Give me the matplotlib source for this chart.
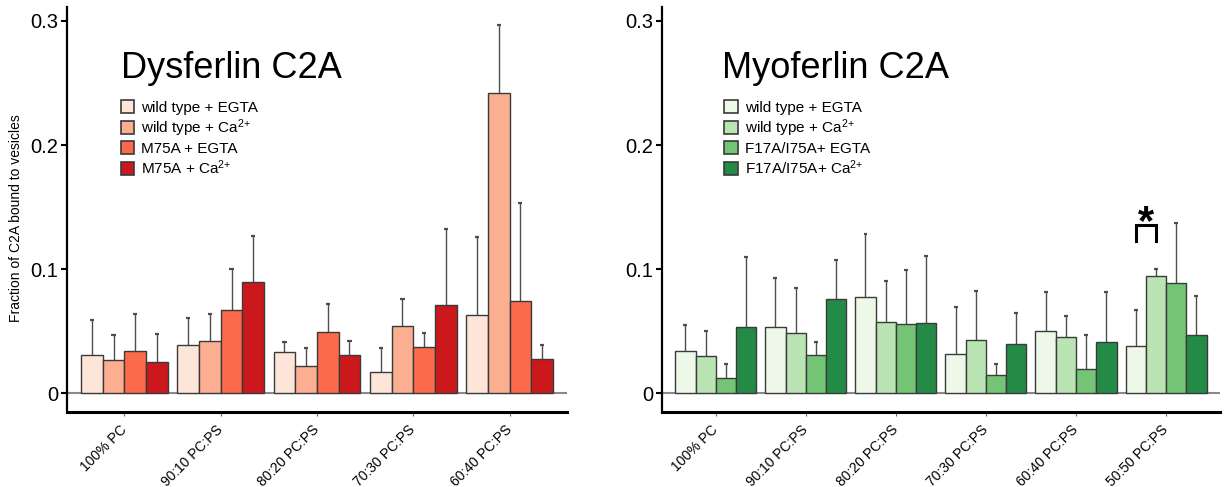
import numpy as np
import matplotlib
matplotlib.use('Agg')
import matplotlib.pyplot as plt
from matplotlib.patches import Patch

plt.rcParams['font.family'] = ['Liberation Sans', 'DejaVu Sans']
plt.rcParams['mathtext.default'] = 'regular'

# ---------------- data ----------------
dys_categories = ['100% PC', '90:10 PC:PS', '80:20 PC:PS', '70:30 PC:PS', '60:40 PC:PS']
myo_categories = ['100% PC', '90:10 PC:PS', '80:20 PC:PS', '70:30 PC:PS', '60:40 PC:PS', '50:50 PC:PS']

dys_labels = ['wild type + EGTA', 'wild type + Ca$^{2{+}}$', 'M75A + EGTA', 'M75A + Ca$^{2{+}}$']
myo_labels = ['wild type + EGTA', 'wild type + Ca$^{2{+}}$', 'F17A/I75A+ EGTA', 'F17A/I75A+ Ca$^{2{+}}$']

# Dysferlin C2A: mean fraction bound and upper error
dys_wt_egta = [0.031, 0.039, 0.033, 0.017, 0.063]
dys_wt_ca = [0.0266, 0.042, 0.022, 0.054, 0.242]
dys_m75a_egta = [0.0344, 0.067, 0.0497, 0.0374, 0.0742]
dys_m75a_ca = [0.025, 0.0895, 0.0312, 0.0715, 0.0277]

dys_wt_egta_err = [0.028, 0.0215, 0.0087, 0.0193, 0.0633]
dys_wt_ca_err = [0.0204, 0.022, 0.0146, 0.0218, 0.055]
dys_m75a_egta_err = [0.0293, 0.0335, 0.0226, 0.0115, 0.0793]
dys_m75a_ca_err = [0.0231, 0.0374, 0.011, 0.0605, 0.011]

# Myoferlin C2A
myo_wt_egta = [0.0343, 0.053, 0.0773, 0.0319, 0.05, 0.0381]
myo_wt_ca = [0.030, 0.0484, 0.0576, 0.043, 0.0451, 0.0943]
myo_mut_egta = [0.0127, 0.0311, 0.0557, 0.0149, 0.0197, 0.0889]
myo_mut_ca = [0.0535, 0.0757, 0.0568, 0.0397, 0.0416, 0.0473]

myo_wt_egta_err = [0.0208, 0.0397, 0.0513, 0.0378, 0.0316, 0.0289]
myo_wt_ca_err = [0.0205, 0.0367, 0.0332, 0.0394, 0.0173, 0.0057]
myo_mut_egta_err = [0.0111, 0.0105, 0.0438, 0.0083, 0.0271, 0.0479]
myo_mut_ca_err = [0.0565, 0.0316, 0.0542, 0.0249, 0.0403, 0.0313]

# significance bracket (Myoferlin, 50:50 group, wt EGTA vs wt Ca2+)
sig_group = 5
sig_pair = (0, 1)
sig_bracket = (0.1228, 0.1355)
sig_star_y = 0.128

reds = ['#fee5d9', '#fcae91', '#fb6a4a', '#cb181d']
greens = ['#edf8e9', '#bae4b3', '#74c476', '#238b45']

yticks = [0, 0.1, 0.2, 0.3]
ytick_labels = ['0', '0.1', '0.2', '0.3']

# ---------------- figure ----------------
fig = plt.figure(figsize=(12.25, 4.87), dpi=100)
ax1 = fig.add_axes([0.0544, 0.154, 0.4087, 0.831])
ax2 = fig.add_axes([0.5402, 0.154, 0.4558, 0.831])

W = 0.225


def draw(ax, cats, series, errs, colors, labels, title, leg_anchor):
    n = len(cats)
    x = np.arange(n)
    ax.axhline(0, color='#8a8a8a', lw=1.5, zorder=1)
    for i, (vals, e, c) in enumerate(zip(series, errs, colors)):
        xs = x + (i - 1.5) * W
        vals = np.asarray(vals)
        tops = vals + np.asarray(e)
        ax.bar(xs, vals, width=W, color=c, edgecolor='#3a3a3a', linewidth=1.0, zorder=3)
        ax.vlines(xs, vals, tops, color='#4d4d4d', lw=1.0, zorder=2)
        ax.hlines(tops, xs - 0.022, xs + 0.022, color='#4d4d4d', lw=1.6, zorder=2)
    ax.set_xlim(-0.6, n - 0.4)
    ax.set_ylim(-0.0151, 0.311)
    ax.set_xticks(x)
    ax.set_xticklabels(cats, rotation=45, ha='right', va='center', rotation_mode='anchor', fontsize=10)
    ax.set_yticks(yticks)
    ax.set_yticklabels(ytick_labels, fontsize=14.5)
    ax.tick_params(axis='y', length=4, width=1.5, pad=2)
    ax.tick_params(axis='x', length=3, width=0.8, color='#666666', pad=8)
    for s in ['top', 'right']:
        ax.spines[s].set_visible(False)
    ax.spines['left'].set_linewidth(1.6)
    ax.spines['bottom'].set_linewidth(2.2)
    ax.text(0.108, 0.826, title, transform=ax.transAxes, fontsize=26, ha='left', va='baseline')
    handles = [Patch(facecolor=c, edgecolor='#3a3a3a', linewidth=1.2) for c in colors]
    ax.legend(handles, labels, loc='upper left', bbox_to_anchor=leg_anchor, frameon=False,
              fontsize=11, handlelength=0.9, handleheight=0.9, handletextpad=0.45,
              labelspacing=0.15, borderpad=0, borderaxespad=0)


draw(ax1, dys_categories,
     [dys_wt_egta, dys_wt_ca, dys_m75a_egta, dys_m75a_ca],
     [dys_wt_egta_err, dys_wt_ca_err, dys_m75a_egta_err, dys_m75a_ca_err],
     reds, dys_labels, 'Dysferlin C2A', (0.108, 0.77))
ax1.set_ylabel('Fraction of C2A bound to vesicles', fontsize=10)
ax1.yaxis.set_label_coords(-0.088, 0.48)

draw(ax2, myo_categories,
     [myo_wt_egta, myo_wt_ca, myo_mut_egta, myo_mut_ca],
     [myo_wt_egta_err, myo_wt_ca_err, myo_mut_egta_err, myo_mut_ca_err],
     greens, myo_labels, 'Myoferlin C2A', (0.112, 0.77))

# significance bracket
xa = sig_group + (sig_pair[0] - 1.5) * W
xb = sig_group + (sig_pair[1] - 1.5) * W
lo, hi = sig_bracket
ax2.plot([xa, xa, xb, xb], [lo, hi, hi, lo], color='black', lw=2.2, zorder=4,
         solid_joinstyle='miter')
ax2.text((xa + xb) / 2, sig_star_y, '*', fontsize=30, fontweight='bold',
         ha='center', va='baseline', zorder=4)

fig.savefig('out.png', dpi=100)
